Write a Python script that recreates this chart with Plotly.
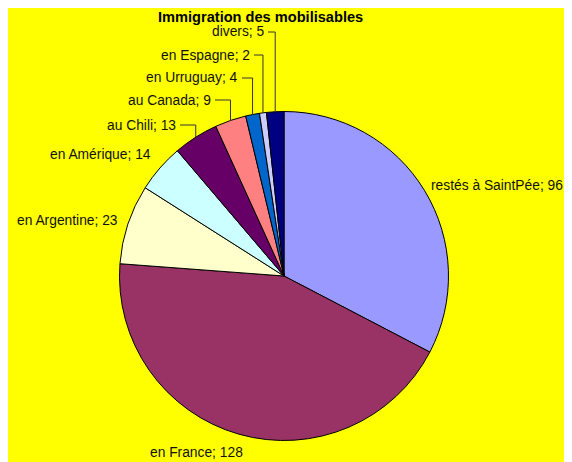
import math
import plotly.graph_objects as go

# ---- data ----
labels = ["restés à SaintPée", "en France", "en Argentine", "en Amérique", "au Chili",
          "au Canada", "en Urruguay", "en Espagne", "divers"]
values = [96, 128, 23, 14, 13, 9, 4, 2, 5]
colors = ["#9999FF", "#993366", "#FFFFCC", "#CCFFFF", "#660066",
          "#FF8080", "#0066CC", "#CCCCFF", "#000080"]
title = "Immigration des mobilisables"

# ---- layout geometry (screen pixels; page has an 8px body offset) ----
OFF = 8
W, H = 572 - OFF, 462 - OFF
CX, CY, R = 284, 276, 164.5

# label placement: (anchor x px, center y px, xanchor, leader line?)
label_pos = [
    (429, 185, "left", False),
    (148, 452, "left", False),
    (120, 220, "right", False),
    (153, 155, "right", False),
    (178, 125, "right", True),
    (213, 100, "right", True),
    (240, 78, "right", True),
    (252, 55, "right", True),
    (266, 32, "right", True),
]

def px(x):
    return (x - OFF) / W

def py(y):
    return 1 - (y - OFF) / H

FONT = "Arial, Liberation Sans, sans-serif"

fig = go.Figure()
fig.add_trace(go.Pie(
    labels=labels, values=values, sort=False, direction="clockwise", rotation=0,
    marker=dict(colors=colors, line=dict(color="#000000", width=1)),
    textinfo="none", hoverinfo="label+value", showlegend=False,
    domain=dict(x=[px(CX - R), px(CX + R)], y=[py(CY + R), py(CY - R)]),
))

annotations = []
shapes = []

total = sum(values)
cum = 0
for lab, val, (lx, ly, anchor, leader) in zip(labels, values, label_pos):
    mid = (cum + val / 2) / total * 2 * math.pi
    cum += val
    annotations.append(dict(
        x=px(lx), y=py(ly), xref="paper", yref="paper", xanchor=anchor, yanchor="middle",
        text=f"{lab}; {val}", showarrow=False,
        font=dict(family=FONT, size=13.8, color="#111111"),
    ))
    if leader:
        ex = CX + R * math.sin(mid)
        ey = CY - R * math.cos(mid)
        path = f"M {px(lx + 2)} {py(ly)} L {px(ex)} {py(ly)} L {px(ex)} {py(ey)}"
        shapes.append(dict(type="path", xref="paper", yref="paper", path=path,
                           line=dict(color="#333333", width=1)))

annotations.append(dict(
    x=px(260), y=py(17), xref="paper", yref="paper", xanchor="center", yanchor="middle",
    text=f"<b>{title}</b>", showarrow=False,
    font=dict(family=FONT, size=14.6, color="#000000"),
))

fig.update_layout(
    width=W, height=H, margin=dict(l=0, r=0, t=0, b=0),
    paper_bgcolor="#FFFF00", plot_bgcolor="#FFFF00",
    annotations=annotations, shapes=shapes,
)
fig.write_html("out.html")
